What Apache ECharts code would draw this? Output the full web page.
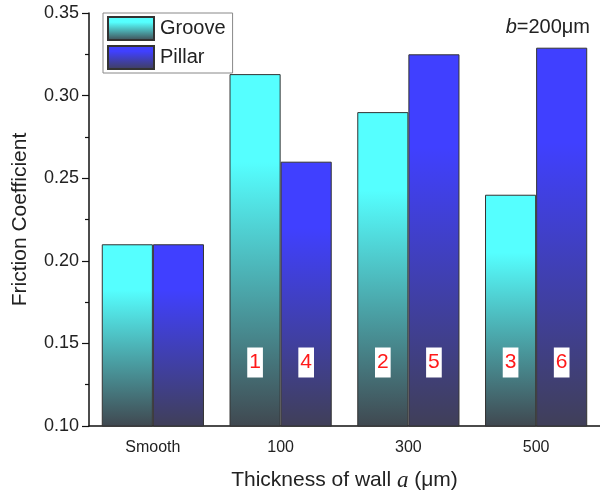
<!DOCTYPE html>
<html><head><meta charset="utf-8">
<script src="https://cdn.jsdelivr.net/npm/echarts@6/dist/echarts.min.js"></script>
<style>html,body{margin:0;padding:0;background:#fff}#c{width:600px;height:497px}</style>
</head><body><div id="c"></div>
<script>
var categories = ['Smooth', '100', '300', '500'];
var grooveValues = [0.21, 0.313, 0.290, 0.240];
var pillarValues = [0.21, 0.260, 0.325, 0.329];
var grooveTags = [null, '1', '2', '3'];
var pillarTags = [null, '4', '5', '6'];
var yTicks = [0.10, 0.15, 0.20, 0.25, 0.30, 0.35];

var FONT = 'Arial, "Liberation Sans", sans-serif';
function grad(top, bottom) {
  return new echarts.graphic.LinearGradient(0, 0, 0, 1, [
    {offset: 0, color: top}, {offset: 0.25, color: top}, {offset: 1, color: bottom}
  ]);
}
var tagLabel = {
  show: true, position: 'insideBottom', distance: 49,
  color: '#ff1a1a', fontSize: 21, fontFamily: FONT, lineHeight: 24,
  backgroundColor: '#ffffff', padding: [3, 2, 3, 2]
};
function build(values, tags) {
  return values.map(function (v, i) {
    var d = {value: v};
    if (tags[i]) d.label = Object.assign({}, tagLabel, {formatter: tags[i]});
    return d;
  });
}
var chart = echarts.init(document.getElementById('c'), null, {renderer: 'canvas'});
chart.setOption({
  animation: false,
  backgroundColor: '#fff',
  textStyle: {fontFamily: FONT},
  grid: {left: 89, right: -1, top: 13, bottom: 70},
  legend: {
    left: 103, top: 13, orient: 'vertical', icon: 'rect',
    itemWidth: 46, itemHeight: 23, itemGap: 4,
    padding: [3, 7, 3, 4],
    borderColor: '#888', borderWidth: 1,
    textStyle: {fontSize: 20, color: '#222', fontFamily: FONT, padding: [0, 0, 0, 1]},
    data: ['Groove', 'Pillar']
  },
  xAxis: [{
    type: 'category', data: categories,
    axisLine: {lineStyle: {color: '#111', width: 1.5}},
    axisTick: {alignWithLabel: true, length: 6, lineStyle: {color: '#111', width: 1.2}},
    axisLabel: {fontSize: 16, color: '#222', margin: 14, fontFamily: FONT},
    name: '{n|Thickness of wall }{i|a}{n| (μm)}',
    nameLocation: 'middle', nameGap: 43,
    nameTextStyle: {rich: {
      n: {fontSize: 21, color: '#222', fontFamily: FONT},
      i: {fontSize: 23, color: '#222', fontFamily: '"Liberation Serif", "DejaVu Serif", serif', fontStyle: 'italic'}
    }}
  }, {
    type: 'category', data: categories, position: 'bottom',
    axisLine: {show: false},
    axisTick: {length: 4, lineStyle: {color: '#111', width: 1.2}},
    axisLabel: {show: false}
  }],
  yAxis: {
    type: 'value', min: 0.10, max: 0.35, interval: 0.05,
    axisLine: {show: true, lineStyle: {color: '#111', width: 1.5}},
    axisTick: {show: true, length: 7, lineStyle: {color: '#111', width: 1.2}},
    minorTick: {show: true, splitNumber: 2, length: 4, lineStyle: {color: '#111', width: 1.2}},
    splitLine: {show: false},
    axisLabel: {fontSize: 18, color: '#222', margin: 10, fontFamily: FONT,
      formatter: function (v) { return v.toFixed(2); }},
    name: 'Friction Coefficient', nameLocation: 'middle', nameGap: 58,
    nameTextStyle: {fontSize: 21, color: '#222', fontFamily: FONT}
  },
  graphic: [{
    type: 'text', right: 10, top: 17,
    style: {
      text: '{i|b}{n|=200μm}',
      rich: {
        i: {fontSize: 20, fontStyle: 'italic', fill: '#222', fontFamily: FONT},
        n: {fontSize: 20, fill: '#222', fontFamily: FONT}
      }
    }
  }],
  series: [{
    name: 'Groove', type: 'bar', barGap: '0%', barCategoryGap: '20%',
    itemStyle: {color: grad('#55ffff', '#404850'), borderColor: '#333', borderWidth: 1},
    data: build(grooveValues, grooveTags)
  }, {
    name: 'Pillar', type: 'bar', barGap: '0%', barCategoryGap: '20%',
    itemStyle: {color: grad('#4040ff', '#403f58'), borderColor: '#333', borderWidth: 1},
    data: build(pillarValues, pillarTags)
  }]
});
</script>
</body></html>
